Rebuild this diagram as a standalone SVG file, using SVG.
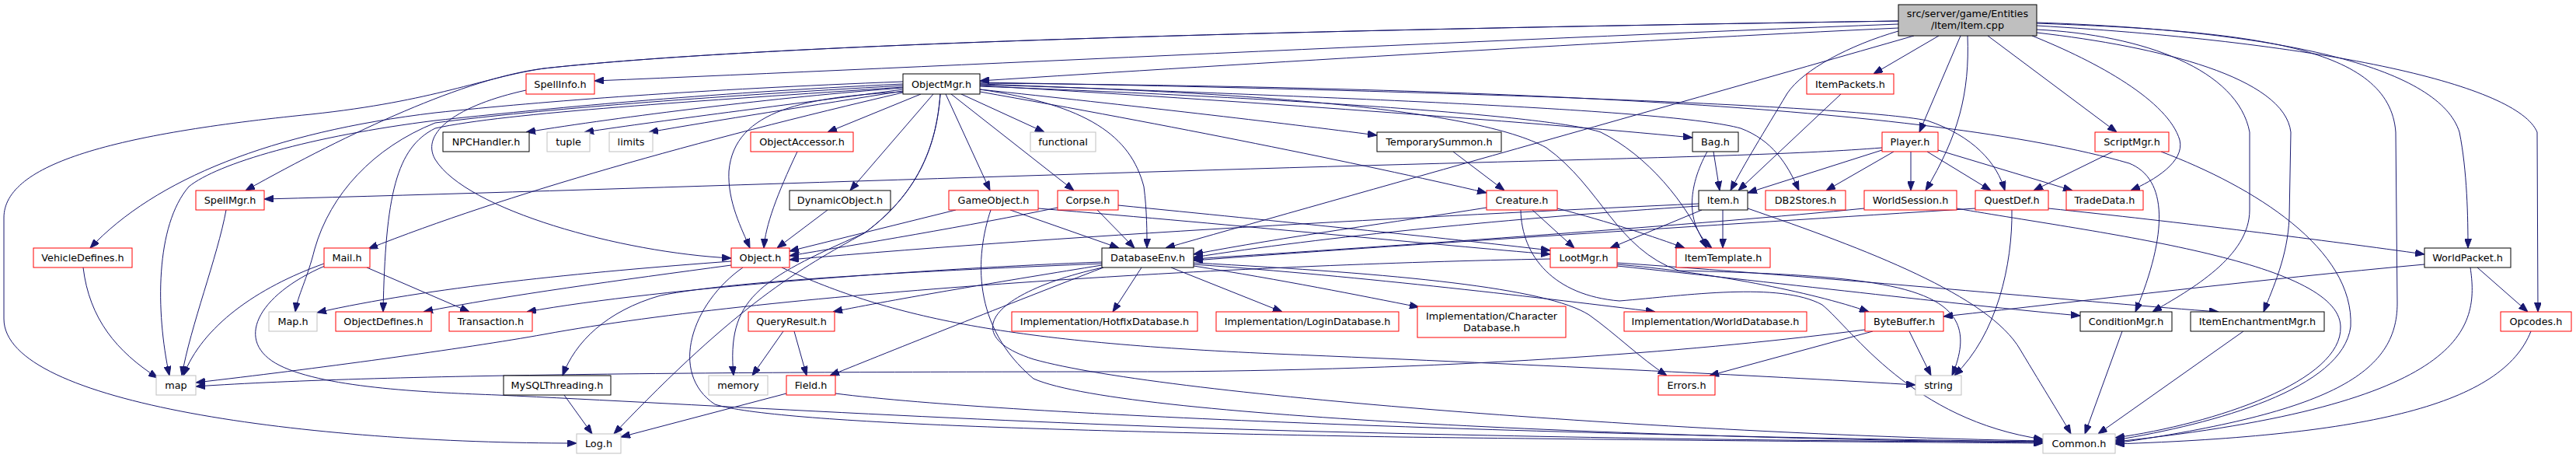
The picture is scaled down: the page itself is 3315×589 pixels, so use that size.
<svg xmlns="http://www.w3.org/2000/svg" width="3315" height="589" viewBox="0 0 3315 589">
<style>
.e{fill:none;stroke:#191970;stroke-width:1;marker-end:url(#ah)}
.n rect{fill:#fff;stroke-width:1}
.red rect{stroke:#ff0000}
.blk rect{stroke:#000}
.gry rect{stroke:#bfbfbf}
.root rect{fill:#bfbfbf;stroke:#000}
text{font-family:"DejaVu Sans","Noto Sans",sans-serif;font-size:12.8px;text-anchor:middle;fill:#000}
</style>
<defs>
<marker id="ah" viewBox="0 0 12 9" refX="12" refY="4.5" markerWidth="12" markerHeight="9" markerUnits="userSpaceOnUse" orient="auto">
<path d="M0,0 L12,4.5 L0,9 Z" fill="#191970" stroke="#191970" stroke-width="1"/>
</marker>
</defs>
<rect width="3315" height="589" fill="#fff"/>
<g id="connectors">
<path class="e" d="M2443,36 C2100,52 1600,82 1261,104"/>
<path class="e" d="M2443,31 C1900,52 1200,86 765,104"/>
<path class="e" d="M2443,27 C1700,38 1000,55 700,88 C600,100 450,170 316,245"/>
<path class="e" d="M2443,27 C1700,38 1000,55 700,88 C620,100 560,130 400,147 C150,172 5,210 5,280 L5,410 C5,520 400,570 742,570"/>
<path class="e" d="M2495,46 L2411,95"/>
<path class="e" d="M2443,40 C2380,58 2320,90 2300,120 C2270,170 2245,210 2227,245"/>
<path class="e" d="M2523,46 L2470,170"/>
<path class="e" d="M2532,46 C2535,120 2520,175 2478,245"/>
<path class="e" d="M2558,46 L2724,170"/>
<path class="e" d="M2615,46 C2700,80 2790,130 2805,180 C2812,208 2772,232 2742,245"/>
<path class="e" d="M2621,38 C2760,45 2880,90 2895,170 L2895,270 C2895,330 2820,372 2770,401"/>
<path class="e" d="M2621,42 C2780,60 2940,100 2948,170 L2946,280 C2944,330 2925,370 2913,401"/>
<path class="e" d="M2621,30 C2900,40 3075,60 3083,170 L3085,390 C3085,480 3000,530 2722,570"/>
<path class="e" d="M2621,29 C2950,40 3140,90 3165,170 C3175,220 3176,280 3176,319"/>
<path class="e" d="M2621,33 C3000,55 3240,110 3265,170 L3266,401"/>
<path class="e" d="M2463,46 C2100,150 1700,262 1500,319"/>
<path class="e" d="M1162,113 C1000,125 800,150 677,170"/>
<path class="e" d="M1162,115 C1050,130 850,155 752,170"/>
<path class="e" d="M1162,117 C1050,135 920,155 835,170"/>
<path class="e" d="M1185,121 L1065,170"/>
<path class="e" d="M1201,121 L1094,245"/>
<path class="e" d="M1162,118 C1040,125 945,140 938,220 C936,260 955,295 965,319"/>
<path class="e" d="M1210,121 C1205,190 1180,250 1112,300 C1030,345 950,390 790,558"/>
<path class="e" d="M1210,121 C1205,190 1180,250 1112,300 C975,360 935,385 944,483"/>
<path class="e" d="M1217,121 L1274,245"/>
<path class="e" d="M1224,121 L1382,245"/>
<path class="e" d="M1237,121 L1344,170"/>
<path class="e" d="M1261,115 C1450,135 1650,158 1772,174"/>
<path class="e" d="M1261,118 C1500,160 1750,210 1913,248"/>
<path class="e" d="M1261,110 C1600,130 1950,155 2178,177"/>
<path class="e" d="M1261,108 C1700,125 2150,140 2240,165 C2280,180 2300,210 2315,245"/>
<path class="e" d="M1261,106 C1800,115 2380,135 2480,155 C2540,175 2570,210 2580,245"/>
<path class="e" d="M1261,107 C1900,112 2480,135 2740,210 C2790,230 2790,300 2748,401"/>
<path class="e" d="M1261,111 C1700,128 2000,150 2060,170 C2120,200 2170,260 2196,319"/>
<path class="e" d="M1261,109 C1600,118 1900,140 1990,190 C2060,240 2080,320 2160,348 C2450,355 2560,370 2512,483"/>
<path class="e" d="M1261,115 C1400,135 1455,175 1472,240 C1476,270 1476,300 1476,319"/>
<path class="e" d="M1162,105 C900,115 700,130 560,145 C350,170 200,230 116,319"/>
<path class="e" d="M1162,108 C900,120 700,140 560,155 C400,175 280,210 243,240 C200,290 200,400 218,483"/>
<path class="e" d="M1162,110 C900,125 700,140 560,158 C480,190 425,250 405,320 C395,360 383,380 380,401"/>
<path class="e" d="M1162,112 C900,130 650,145 560,165 C510,190 496,250 493,401"/>
<path class="e" d="M1162,119 C900,180 650,250 474,320"/>
<path class="e" d="M677,116 C590,135 540,170 560,205 C600,270 800,325 941,332"/>
<path class="e" d="M291,270 C280,330 245,420 234,483"/>
<path class="e" d="M107,344 C115,410 150,452 203,486"/>
<path class="e" d="M417,339 C330,370 260,420 236,483"/>
<path class="e" d="M418,342 C330,380 300,440 360,470 C420,500 560,505 640,508 C900,520 1300,545 1700,555 C2100,565 2400,568 2629,568"/>
<path class="e" d="M472,344 L604,401"/>
<path class="e" d="M941,336 C750,350 550,370 408,402"/>
<path class="e" d="M941,341 C800,360 650,380 545,401"/>
<path class="e" d="M1006,344 C1150,410 1300,440 1640,455 C2000,470 2300,485 2465,495"/>
<path class="e" d="M956,344 C890,390 860,480 920,520 C1000,545 1400,555 1800,562 C2200,567 2500,569 2629,570"/>
<path class="e" d="M1026,195 C1000,250 985,290 983,319"/>
<path class="e" d="M1065,270 L1000,319"/>
<path class="e" d="M1418,337 C1200,345 850,370 678,401"/>
<path class="e" d="M1418,341 C1300,360 1150,385 1072,401"/>
<path class="e" d="M1418,339 C1200,348 950,360 850,380 C780,400 740,440 724,483"/>
<path class="e" d="M1420,344 C1300,390 1150,450 1068,483"/>
<path class="e" d="M1469,344 L1432,401"/>
<path class="e" d="M1507,344 L1650,401"/>
<path class="e" d="M1536,342 C1650,360 1750,380 1826,395"/>
<path class="e" d="M1536,340 C1750,355 2000,385 2130,401"/>
<path class="e" d="M1536,338 C1800,352 1990,370 2045,405 C2080,430 2110,460 2145,483"/>
<path class="e" d="M1419,344 C1280,375 1230,430 1330,462 C1500,510 2200,560 2629,567"/>
<path class="e" d="M1230,270 L1016,323"/>
<path class="e" d="M1300,270 L1440,319"/>
<path class="e" d="M1336,268 C1600,290 1850,315 1995,327"/>
<path class="e" d="M1275,270 C1255,330 1250,420 1330,487 C1450,540 2200,565 2629,569"/>
<path class="e" d="M1361,267 C1250,290 1100,315 1016,329"/>
<path class="e" d="M1412,270 L1460,319"/>
<path class="e" d="M1439,264 C1650,285 1850,305 1995,322"/>
<path class="e" d="M1913,267 C1800,285 1650,305 1536,327"/>
<path class="e" d="M1972,270 L2026,319"/>
<path class="e" d="M2004,268 C2070,285 2130,305 2168,319"/>
<path class="e" d="M1957,270 C1958,330 2000,380 2084,387 C2170,380 2290,362 2345,392 C2385,425 2460,540 2629,565"/>
<path class="e" d="M1870,195 L1936,245"/>
<path class="e" d="M2205,195 L2213,245"/>
<path class="e" d="M2197,195 C2172,240 2168,290 2203,319"/>
<path class="e" d="M2186,262 C1900,275 1400,300 1016,334"/>
<path class="e" d="M2186,265 C1950,280 1700,305 1536,331"/>
<path class="e" d="M2190,270 L2072,319"/>
<path class="e" d="M2217,270 L2217,319"/>
<path class="e" d="M2249,268 C2400,320 2560,380 2600,450 C2630,500 2655,540 2665,558"/>
<path class="e" d="M2369,121 L2237,245"/>
<path class="e" d="M2422,193 L2249,248"/>
<path class="e" d="M2422,190 C2320,198 2200,201 1900,209 C1400,222 800,244 340,256"/>
<path class="e" d="M2437,195 L2350,245"/>
<path class="e" d="M2459,195 L2459,245"/>
<path class="e" d="M2480,195 L2562,245"/>
<path class="e" d="M2494,193 L2667,245"/>
<path class="e" d="M2719,195 L2617,245"/>
<path class="e" d="M2781,195 C2900,240 3030,320 3025,420 C3015,500 2850,545 2722,566"/>
<path class="e" d="M2589,270 C2590,340 2570,430 2515,483"/>
<path class="e" d="M2636,268 C2800,285 3000,310 3120,327"/>
<path class="e" d="M2542,268 C2200,290 1800,315 1536,335"/>
<path class="e" d="M2399,268 C2200,288 1800,316 1536,333"/>
<path class="e" d="M2518,268 C2700,300 3010,335 3012,420 C3015,490 2850,545 2722,563"/>
<path class="e" d="M3120,340 C2900,360 2700,385 2501,407"/>
<path class="e" d="M3188,344 L3253,401"/>
<path class="e" d="M3179,344 C3190,420 3180,520 2722,568"/>
<path class="e" d="M3257,426 C3220,520 3050,560 2722,571"/>
<path class="e" d="M2887,426 L2700,558"/>
<path class="e" d="M2731,426 L2683,558"/>
<path class="e" d="M1995,333 C1600,340 1000,375 700,430 C600,448 400,475 252,492"/>
<path class="e" d="M2081,340 C2200,350 2330,375 2405,401"/>
<path class="e" d="M2081,342 C2300,365 2550,395 2677,406"/>
<path class="e" d="M2081,338 C2400,360 2700,390 2855,401"/>
<path class="e" d="M2400,424 C2200,450 1900,475 1500,478 C1000,478 500,480 252,497"/>
<path class="e" d="M2410,426 L2200,483"/>
<path class="e" d="M2457,426 L2485,483"/>
<path class="e" d="M1008,426 L968,483"/>
<path class="e" d="M1022,426 L1038,483"/>
<path class="e" d="M1012,506 L799,562"/>
<path class="e" d="M1075,506 C1300,535 2000,560 2629,568"/>
<path class="e" d="M726,508 L762,558"/>
</g>
<g id="n_root" class="n root"><rect x="2443" y="6" width="178" height="40"/><text x="2532" y="22">src/server/game/Entities</text><text x="2532" y="37">/Item/Item.cpp</text></g>
<g id="n_objectmgr" class="n blk"><rect x="1162" y="95" width="99" height="26"/><text x="1211.5" y="112.5">ObjectMgr.h</text></g>
<g id="n_spellinfo" class="n red"><rect x="677" y="95" width="88" height="26"/><text x="721" y="112.5">SpellInfo.h</text></g>
<g id="n_itempackets" class="n red"><rect x="2325" y="95" width="112" height="26"/><text x="2381" y="112.5">ItemPackets.h</text></g>
<g id="n_npchandler" class="n blk"><rect x="570" y="170" width="111" height="25"/><text x="625.5" y="187">NPCHandler.h</text></g>
<g id="n_tuple" class="n gry"><rect x="704" y="170" width="55" height="25"/><text x="731.5" y="187">tuple</text></g>
<g id="n_limits" class="n gry"><rect x="784" y="170" width="56" height="25"/><text x="812" y="187">limits</text></g>
<g id="n_objectaccessor" class="n red"><rect x="966" y="170" width="132" height="25"/><text x="1032" y="187">ObjectAccessor.h</text></g>
<g id="n_functional" class="n gry"><rect x="1326" y="170" width="84" height="25"/><text x="1368" y="187">functional</text></g>
<g id="n_temporarysummon" class="n blk"><rect x="1772" y="170" width="160" height="25"/><text x="1852" y="187">TemporarySummon.h</text></g>
<g id="n_bag" class="n blk"><rect x="2178" y="170" width="59" height="25"/><text x="2207.5" y="187">Bag.h</text></g>
<g id="n_player" class="n red"><rect x="2422" y="170" width="72" height="25"/><text x="2458" y="187">Player.h</text></g>
<g id="n_scriptmgr" class="n red"><rect x="2696" y="170" width="95" height="25"/><text x="2743.5" y="187">ScriptMgr.h</text></g>
<g id="n_spellmgr" class="n red"><rect x="252" y="245" width="88" height="25"/><text x="296" y="262">SpellMgr.h</text></g>
<g id="n_dynamicobject" class="n blk"><rect x="1016" y="245" width="130" height="25"/><text x="1081" y="262">DynamicObject.h</text></g>
<g id="n_gameobject" class="n red"><rect x="1221" y="245" width="115" height="25"/><text x="1278.5" y="262">GameObject.h</text></g>
<g id="n_corpse" class="n red"><rect x="1361" y="245" width="78" height="25"/><text x="1400" y="262">Corpse.h</text></g>
<g id="n_creature" class="n red"><rect x="1913" y="245" width="91" height="25"/><text x="1958.5" y="262">Creature.h</text></g>
<g id="n_item" class="n blk"><rect x="2186" y="245" width="63" height="25"/><text x="2217.5" y="262">Item.h</text></g>
<g id="n_db2stores" class="n red"><rect x="2272" y="245" width="103" height="25"/><text x="2323.5" y="262">DB2Stores.h</text></g>
<g id="n_worldsession" class="n red"><rect x="2399" y="245" width="119" height="25"/><text x="2458.5" y="262">WorldSession.h</text></g>
<g id="n_questdef" class="n red"><rect x="2542" y="245" width="94" height="25"/><text x="2589" y="262">QuestDef.h</text></g>
<g id="n_tradedata" class="n red"><rect x="2659" y="245" width="99" height="25"/><text x="2708.5" y="262">TradeData.h</text></g>
<g id="n_vehicledefines" class="n red"><rect x="43" y="319" width="127" height="25"/><text x="106.5" y="336">VehicleDefines.h</text></g>
<g id="n_mail" class="n red"><rect x="417" y="319" width="59" height="25"/><text x="446.5" y="336">Mail.h</text></g>
<g id="n_object" class="n red"><rect x="941" y="319" width="75" height="25"/><text x="978.5" y="336">Object.h</text></g>
<g id="n_databaseenv" class="n blk"><rect x="1418" y="319" width="118" height="25"/><text x="1477" y="336">DatabaseEnv.h</text></g>
<g id="n_lootmgr" class="n red"><rect x="1995" y="319" width="86" height="25"/><text x="2038" y="336">LootMgr.h</text></g>
<g id="n_itemtemplate" class="n red"><rect x="2157" y="319" width="121" height="25"/><text x="2217.5" y="336">ItemTemplate.h</text></g>
<g id="n_worldpacket" class="n blk"><rect x="3120" y="319" width="111" height="25"/><text x="3175.5" y="336">WorldPacket.h</text></g>
<g id="n_maph" class="n gry"><rect x="346" y="401" width="62" height="25"/><text x="377" y="418">Map.h</text></g>
<g id="n_objectdefines" class="n red"><rect x="432" y="401" width="123" height="25"/><text x="493.5" y="418">ObjectDefines.h</text></g>
<g id="n_transaction" class="n red"><rect x="578" y="401" width="107" height="25"/><text x="631.5" y="418">Transaction.h</text></g>
<g id="n_queryresult" class="n red"><rect x="963" y="401" width="111" height="25"/><text x="1018.5" y="418">QueryResult.h</text></g>
<g id="n_hotfixdb" class="n red"><rect x="1302" y="401" width="239" height="25"/><text x="1421.5" y="418">Implementation/HotfixDatabase.h</text></g>
<g id="n_logindb" class="n red"><rect x="1565" y="401" width="235" height="25"/><text x="1682.5" y="418">Implementation/LoginDatabase.h</text></g>
<g id="n_characterdb" class="n red"><rect x="1824" y="394" width="191" height="40"/><text x="1919.5" y="411">Implementation/Character</text><text x="1919.5" y="426">Database.h</text></g>
<g id="n_worlddb" class="n red"><rect x="2090" y="401" width="235" height="25"/><text x="2207.5" y="418">Implementation/WorldDatabase.h</text></g>
<g id="n_bytebuffer" class="n red"><rect x="2400" y="401" width="101" height="25"/><text x="2450.5" y="418">ByteBuffer.h</text></g>
<g id="n_conditionmgr" class="n blk"><rect x="2677" y="401" width="118" height="25"/><text x="2736" y="418">ConditionMgr.h</text></g>
<g id="n_itemenchantmentmgr" class="n blk"><rect x="2819" y="401" width="172" height="25"/><text x="2905" y="418">ItemEnchantmentMgr.h</text></g>
<g id="n_opcodes" class="n red"><rect x="3218" y="401" width="91" height="25"/><text x="3263.5" y="418">Opcodes.h</text></g>
<g id="n_map" class="n gry"><rect x="201" y="483" width="51" height="25"/><text x="226.5" y="500">map</text></g>
<g id="n_mysqlthreading" class="n blk"><rect x="648" y="483" width="138" height="25"/><text x="717" y="500">MySQLThreading.h</text></g>
<g id="n_memory" class="n gry"><rect x="912" y="483" width="76" height="25"/><text x="950" y="500">memory</text></g>
<g id="n_field" class="n red"><rect x="1012" y="483" width="63" height="25"/><text x="1043.5" y="500">Field.h</text></g>
<g id="n_errors" class="n red"><rect x="2134" y="483" width="73" height="25"/><text x="2170.5" y="500">Errors.h</text></g>
<g id="n_string" class="n gry"><rect x="2465" y="483" width="59" height="25"/><text x="2494.5" y="500">string</text></g>
<g id="n_log" class="n gry"><rect x="742" y="558" width="57" height="25"/><text x="770.5" y="575">Log.h</text></g>
<g id="n_common" class="n gry"><rect x="2629" y="558" width="93" height="25"/><text x="2675.5" y="575">Common.h</text></g>
</svg>
